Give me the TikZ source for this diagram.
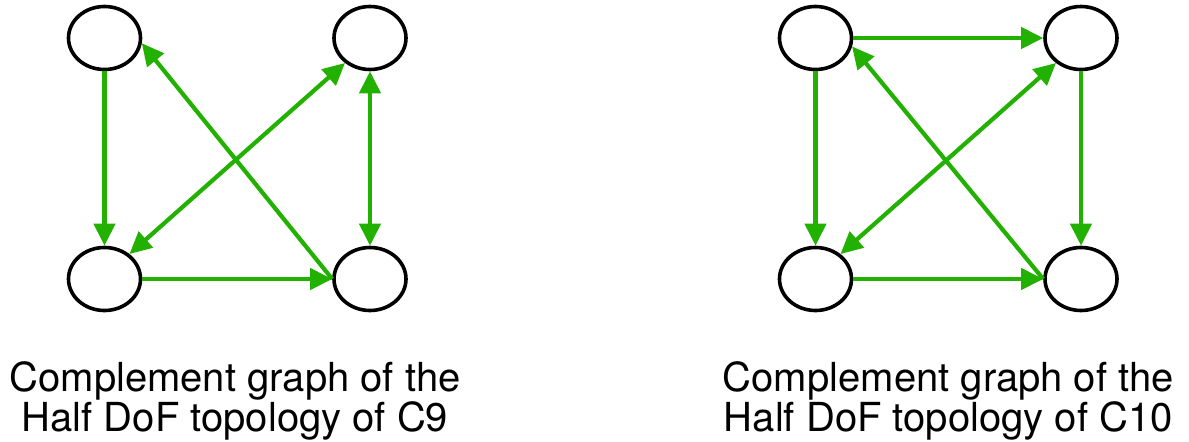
\documentclass[tikz,border=0pt]{standalone}
\usepackage{fontspec}
\setmainfont{TeX Gyre Heros}
\usetikzlibrary{arrows.meta,shapes.geometric}
\definecolor{lnkgreen}{RGB}{34,177,0}
\tikzset{
  vtx/.style={ellipse,draw,line width=1.8pt,minimum width=36pt,minimum height=31.5pt,inner sep=0pt},
  lnk/.style={draw=lnkgreen,line width=2.1pt,>={Triangle[length=11pt,width=10.5pt]}},
  captxt/.style={align=center,inner sep=0pt,font={\fontsize{20}{18.5}\selectfont}}
}
\begin{document}
\begin{tikzpicture}[x=0.5pt,y=0.5pt]
  \useasboundingbox (0,0) rectangle (1189,441);
  \foreach \g/\x in {c/104.5,d/815.5} {\node[vtx] (\g1) at (\x,403) {}; \node[vtx] (\g2) at (\x+265.5,403) {}; \node[vtx] (\g3) at (\x,162) {}; \node[vtx] (\g4) at (\x+265.5,162) {};}
  % C9
  \draw[lnk,->] (c1.south) -- (c3.north);
  \draw[lnk,->] (c4.west) -- (c1.-8);
  \draw[lnk,<->] (c3.45) -- (c2.225);
  \draw[lnk,<->] (c2.south) -- (c4.north);
  \draw[lnk,->] (c3.east) -- (c4.west);
  % C10
  \draw[lnk,->] (d1.east) -- (d2.west);
  \draw[lnk,->] (d1.south) -- (d3.north);
  \draw[lnk,->] (d2.south) -- (d4.north);
  \draw[lnk,->] (d3.east) -- (d4.west);
  \draw[lnk,->] (d4.west) -- (d1.-13);
  \draw[lnk,<->] (d3.45) -- (d2.225);
  \node[captxt,anchor=north] (capc) at (235,80) {Complement graph of the\\Half DoF topology of C9};
  \node[captxt,anchor=north] (capd) at (948.3,80) {Complement graph of the\\Half DoF topology of C10};
\end{tikzpicture}
\end{document}
